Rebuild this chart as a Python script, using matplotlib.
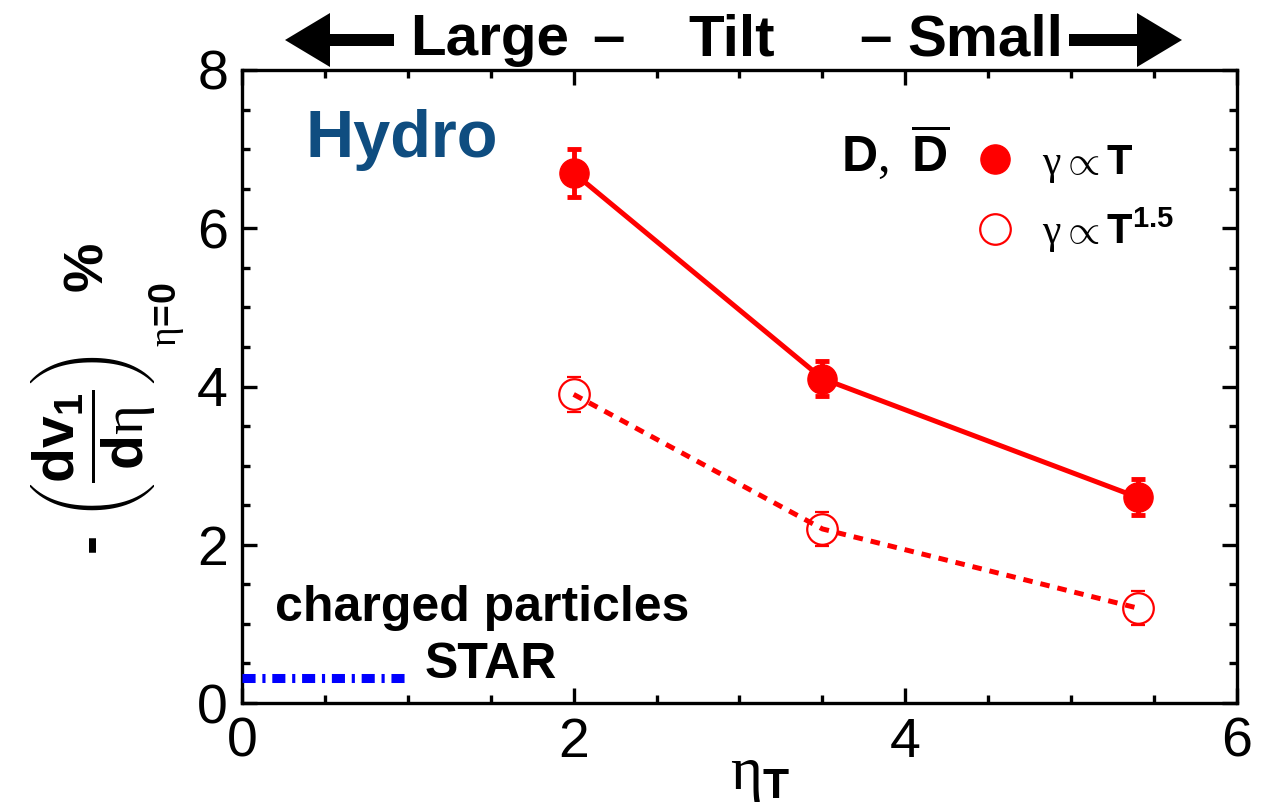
import matplotlib
matplotlib.use("Agg")
import matplotlib.pyplot as plt
from matplotlib.lines import Line2D
from matplotlib.patches import FancyArrow
from matplotlib.ticker import MultipleLocator

# ---- data -------------------------------------------------------------
eta_T = [2.0, 3.5, 5.4]
v1_gamma_T = [6.7, 4.1, 2.6]          # gamma ~ T (filled)
v1_gamma_T_err = [0.3, 0.22, 0.23]
v1_gamma_T15 = [3.9, 2.2, 1.2]        # gamma ~ T^1.5 (open)
v1_gamma_T15_err = [0.22, 0.22, 0.22]
star_x = [0.0, 1.0]                    # STAR charged particles reference
star_y = [0.31, 0.31]

x_ticks = [0, 2, 4, 6]
y_ticks = [0, 2, 4, 6, 8]

RED = "#ff0000"
BLUE = "#0000ff"
HYDRO = "#0f4d80"

plt.rcParams["font.family"] = ["Liberation Sans", "DejaVu Sans"]
plt.rcParams["mathtext.fontset"] = "custom"
plt.rcParams["mathtext.rm"] = "Liberation Serif"   # Greek symbols
plt.rcParams["mathtext.bf"] = "Liberation Sans:bold"
plt.rcParams["mathtext.it"] = "Liberation Sans:italic"
plt.rcParams["mathtext.sf"] = "Liberation Sans"

W, H = 1273, 808
fig = plt.figure(figsize=(W / 100, H / 100), dpi=100)
L, R, T, B = 242, 1237, 70, 703
ax = fig.add_axes([L / W, 1 - B / H, (R - L) / W, (B - T) / H])

# solid: gamma ~ T
ax.plot(eta_T, v1_gamma_T, color=RED, lw=3.6, zorder=3)
ax.errorbar(eta_T, v1_gamma_T, yerr=v1_gamma_T_err, fmt="o", color=RED,
            ms=21, elinewidth=3.5, capsize=5, capthick=3.5, zorder=4)
# dashed: gamma ~ T^1.5 (error shown by caps just outside the open circle)
ax.plot(eta_T, v1_gamma_T15, color=RED, lw=3.6, ls=(0, (1.9, 1.6)), zorder=3)
ax.errorbar(eta_T, v1_gamma_T15, yerr=v1_gamma_T15_err, fmt="o", color=RED,
            mfc="none", mec=RED, mew=1.6, ms=22, elinewidth=0, capsize=5,
            capthick=3.5, zorder=4)
# STAR charged-particle line
ax.plot(star_x, star_y, color=BLUE, lw=6.5, ls=(0, (1.45, 0.75, 0.35, 0.75)),
        dash_capstyle="butt", solid_capstyle="butt", zorder=3)

ax.set_xlim(0, 6)
ax.set_ylim(0, 8)
ax.set_xticks(x_ticks)
ax.set_yticks(y_ticks)
ax.xaxis.set_minor_locator(MultipleLocator(0.5))
ax.yaxis.set_minor_locator(MultipleLocator(0.5))
ax.tick_params(which="both", direction="in", top=True, right=True, width=2.4)
ax.tick_params(which="major", length=11, labelsize=40, pad=10)
ax.tick_params(which="minor", length=6)
for s in ax.spines.values():
    s.set_linewidth(2.4)

# annotations inside the frame
ax.text(0.38, 7.12, "Hydro", color=HYDRO, fontsize=48, fontweight="bold",
        ha="left", va="center")
ax.text(0.2, 1.2, "charged particles", fontsize=36, fontweight="bold",
        ha="left", va="center")
ax.text(1.1, 0.48, "STAR", fontsize=36, fontweight="bold", ha="left", va="center")
ax.text(3.94, 6.97, r"$\mathbf{D},\ \overline{\mathbf{D}}$", fontsize=36,
        ha="center", va="center")

handles = [
    Line2D([], [], ls="none", marker="o", ms=21, color=RED),
    Line2D([], [], ls="none", marker="o", ms=22, mfc="none", mec=RED, mew=1.6),
]
labels = [r"$\mathrm{\gamma} \propto \mathbf{T}$",
          r"$\mathrm{\gamma} \propto \mathbf{T}^{\mathbf{1.5}}$"]
ax.legend(handles, labels, loc="upper left", bbox_to_anchor=(0.711, 0.918),
          frameon=False, fontsize=30, handlelength=1.2, handletextpad=0.52,
          labelspacing=0.5, borderpad=0)

# y-axis label: -(dv1/deta)_{eta=0} %, built from rotated pieces
fig.text(93 / W, 1 - 455 / H,
         r"- $\left(\dfrac{\mathbf{dv}_{\mathbf{1}}}{\mathbf{d}\mathrm{\eta}}\right)$",
         rotation=90, fontsize=41, fontweight="bold", ha="center", va="center")
fig.text(166 / W, 1 - 315 / H, r"$\mathrm{\eta}\!\mathbf{=}\!\mathbf{0}$",
         rotation=90, fontsize=27, ha="center", va="center")
fig.text(88 / W, 1 - 266 / H, "%", rotation=90, fontsize=40,
         fontweight="bold", ha="center", va="center")
fig.text(760 / W, 1 - 775 / H, r"$\mathrm{\eta}_{\mathbf{T}}$", fontsize=44,
         ha="center", va="center")

# header with arrows, drawn on a pixel-unit overlay
ov = fig.add_axes([0, 0, 1, 1], zorder=10)
ov.set_xlim(0, W)
ov.set_ylim(H, 0)
ov.axis("off")
for txt, xc in [("Large", 490), ("\u2013", 608), ("Tilt", 732),
                ("\u2013", 875), ("Small", 985)]:
    ov.text(xc, 55, txt, fontsize=42, fontweight="bold", ha="center",
            va="baseline")
ov.add_patch(FancyArrow(394, 40, -109, 0, width=12, head_width=54,
                        head_length=45, length_includes_head=True,
                        color="black", lw=0))
ov.add_patch(FancyArrow(1069, 40, 113, 0, width=12, head_width=54,
                        head_length=45, length_includes_head=True,
                        color="black", lw=0))

fig.savefig("out.png", dpi=100)
